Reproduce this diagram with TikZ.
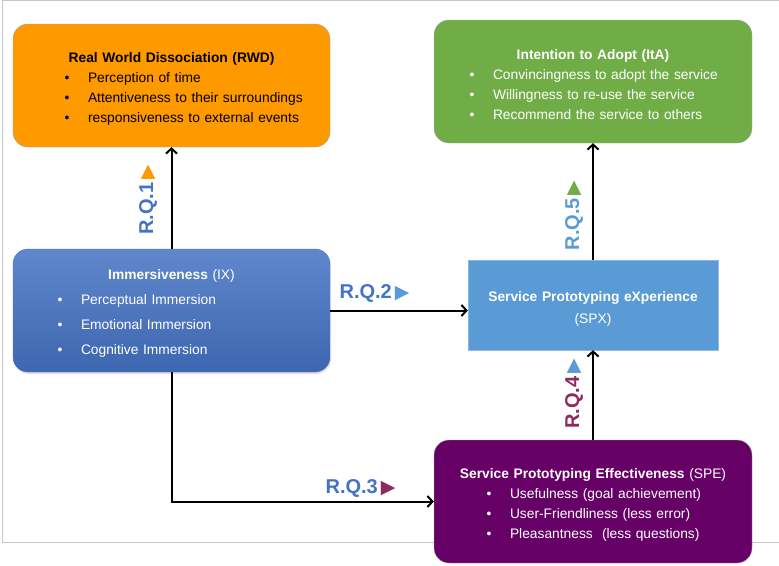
\documentclass[tikz,border=0pt]{standalone}
\usepackage{fontspec}
\setmainfont{Liberation Sans}
\newfontfamily\symfont{DejaVu Sans}
\usepackage{xcolor}
\usepackage{enumitem}
\setlist[itemize]{nosep,label=\textbullet,labelsep=18.5pt}
\usetikzlibrary{arrows.meta,positioning,shadows}
\definecolor{rwdorange}{HTML}{FF9900}
\definecolor{itagreen}{HTML}{70AD47}
\definecolor{ixblue}{HTML}{4472C4}
\definecolor{spxblue}{HTML}{5B9BD5}
\definecolor{spepurple}{HTML}{660066}
\definecolor{rqmaroon}{HTML}{8E2A5E}
\tikzset{%
  arrow/.style={line width=2pt,-{Straight Barb[length=5pt,width=11pt,line width=2pt]}},
  factor/.style={rounded corners=15pt,draw=gray!70,text width=317pt,minimum height=123pt,inner sep=0pt,
    font=\fontsize{13.8}{20}\selectfont,execute at end node=\vspace{-6pt}},
  rq/.style={font=\fontsize{20}{20}\selectfont\bfseries,inner sep=0pt},
}
\newcommand{\tri}[1]{\kern3pt{\symfont\fontsize{19}{19}\selectfont\color{#1}▶}}

\begin{document}
\begin{tikzpicture}[x=1pt,y=-1pt]
      \useasboundingbox (0,0) rectangle (779,565);
      % frame
      \draw[gray!45,line width=0.8pt] (780,0.5) -- (2.5,0.5) -- (2.5,542.5) -- (780,542.5);

      \node[factor,fill=rwdorange] (RWD) at (171.5,85.5) {%
        \centerline{\textbf{Real World Dissociation (RWD)}}
        \begin{itemize}[leftmargin=75pt]
          \item Perception of time
          \item Attentiveness to their surroundings
          \item responsiveness to external events
        \end{itemize}};
      \node[factor,fill=itagreen,text=white,text width=318pt] (ItA) at (593,81.5) {%
        \centerline{\textbf{Intention to Adopt (ItA)}}
        \begin{itemize}[leftmargin=59pt]
          \item Convincingness to adopt the service
          \item Willingness to re-use the service
          \item Recommend the service to others
        \end{itemize}};
      \node[factor,top color=ixblue!85!white,bottom color=ixblue!90!black,draw=ixblue,text=white,
        font=\fontsize{13.8}{25}\selectfont,
        drop shadow={opacity=0.25,shadow xshift=1pt,shadow yshift=-2pt}] (IX) at (171.5,310.5) {%
        \centerline{\textbf{Immersiveness} (IX)}
        \begin{itemize}[leftmargin=68pt]
          \item Perceptual Immersion
          \item Emotional Immersion
          \item Cognitive Immersion
        \end{itemize}};
      \node[draw=spxblue!70!white,fill=spxblue,text=white,text width=250pt,minimum height=90pt,inner sep=0pt,
        align=center,font=\fontsize{13.8}{22}\selectfont,execute at end node=\vspace{-8pt}] (SPX) at (593,305)
        {\textbf{Service Prototyping eXperience}\\(SPX)};
      \node[factor,fill=spepurple,text=white,text width=318pt] (SPE) at (593,501.5) {%
        \centerline{\textbf{Service Prototyping Effectiveness} (SPE)}
        \begin{itemize}[leftmargin=76pt]
          \item Usefulness (goal achievement)
          \item User-Friendliness (less error)
          \item Pleasantness\ \ (less questions)
        \end{itemize}};

      \draw[arrow] (IX.north) -- (RWD.south);
      \draw[arrow] (IX.east) -- (IX.east -| SPX.west);
      \draw[arrow] (IX.south) |- (SPE.west);
      \draw[arrow] (SPE.north) -- (SPX.south);
      \draw[arrow] (SPX.north) -- (ItA.south);

      \node[rq,text=ixblue,rotate=90] (rq1) at (148,200) {R.Q.1\tri{rwdorange}};
      \node[rq,text=ixblue] (rq2) at (374.5,293) {R.Q.2\tri{spxblue}};
      \node[rq,text=ixblue] (rq3) at (360.5,488) {R.Q.3\tri{rqmaroon}};
      \node[rq,text=rqmaroon,rotate=90] (rq4) at (574,394) {R.Q.4\tri{spxblue}};
      \node[rq,text=spxblue,rotate=90] (rq5) at (574,215.5) {R.Q.5\tri{itagreen}};
    \end{tikzpicture}
\end{document}
